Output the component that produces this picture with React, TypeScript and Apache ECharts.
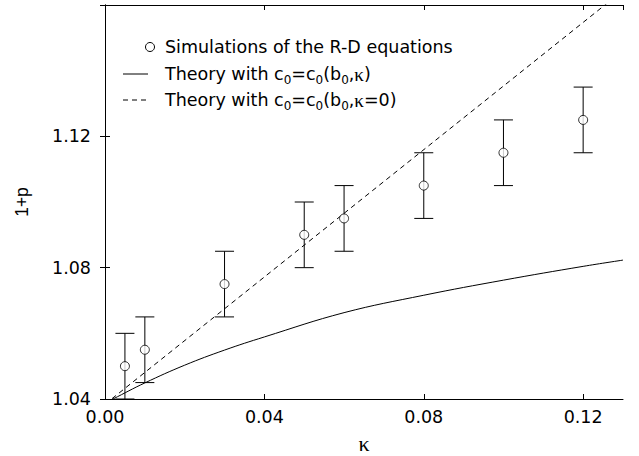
import React, { useEffect, useRef } from "react";
import * as echarts from "echarts";

// ---- data ----
const kappa = [0.005, 0.01, 0.03, 0.05, 0.06, 0.08, 0.1, 0.12];
const simValues = [1.05, 1.055, 1.075, 1.09, 1.095, 1.105, 1.115, 1.125];
const simErrors = [0.01, 0.01, 0.01, 0.01, 0.01, 0.01, 0.01, 0.01];

const theoryKappa = [0, 0.002, 0.01, 0.02, 0.03, 0.04, 0.06, 0.08, 0.1, 0.12, 0.13];
const theoryValues = [1.0388, 1.04, 1.0449, 1.0503, 1.0549, 1.0589, 1.0663, 1.0716, 1.0762, 1.0804, 1.0823];

const theory0Kappa = [0, 0.13];
const theory0Values = [1.0384, 1.1644];

const xTicks = { min: 0, max: 0.13, interval: 0.04 };
const yTicks = { min: 1.04, max: 1.16, interval: 0.04 };

const legendLabels = [
  "Simulations of the R-D equations",
  "{n|Theory with c}{s|0}{n|=c}{s|0}{n|(b}{s|0}{n|,}{k|κ}{n|)}",
  "{n|Theory with c}{s|0}{n|=c}{s|0}{n|(b}{s|0}{n|,}{k|κ}{n|=0)}",
];

const SANS = "DejaVu Sans";
const FS = 17.5;

export default function App() {
  const ref = useRef<HTMLDivElement>(null);

  useEffect(() => {
    if (!ref.current) return;
    const chart = echarts.init(ref.current, null, { renderer: "svg" });

    const axisCommon = {
      type: "value" as const,
      splitLine: { show: false },
      axisLine: { show: true, lineStyle: { color: "#000", width: 1 } },
      axisTick: { show: true, inside: true, length: 5, lineStyle: { color: "#000", width: 1 } },
    };

    const rich = {
      n: { fontFamily: SANS, fontSize: FS, color: "#000", lineHeight: 22 },
      s: { fontFamily: SANS, fontSize: 12, color: "#000", lineHeight: 12, padding: [12, 0, 0, 0] },
      k: { fontFamily: "Liberation Serif", fontSize: 19, color: "#000", lineHeight: 22 },
    };

    const option: any = {
      animation: false,
      backgroundColor: "#fff",
      grid: { left: 105, right: 16, top: 5, bottom: 57, containLabel: false, outerBoundsMode: "none" },
      xAxis: [
        {
          ...axisCommon,
          ...xTicks,
          position: "bottom",
          name: "κ",
          nameLocation: "middle",
          nameGap: 33,
          nameTextStyle: { fontFamily: "Liberation Serif", fontSize: 22, color: "#000" },
          axisLabel: {
            color: "#000",
            fontFamily: SANS,
            fontSize: FS,
            margin: 9,
            showMaxLabel: false,
            formatter: (v: number) => v.toFixed(2),
          },
        },
        {
          ...axisCommon,
          ...xTicks,
          position: "top",
          axisLabel: { show: false },
        },
      ],
      yAxis: [
        {
          ...axisCommon,
          ...yTicks,
          position: "left",
          name: "1+p",
          nameLocation: "middle",
          nameGap: 74,
          nameTextStyle: { fontFamily: "Liberation Sans", fontSize: FS, color: "#000" },
          axisLabel: {
            color: "#000",
            fontFamily: SANS,
            fontSize: FS,
            margin: 14,
            showMaxLabel: false,
            formatter: (v: number) => v.toFixed(2),
          },
        },
        {
          ...axisCommon,
          ...yTicks,
          position: "right",
          axisLabel: { show: false },
        },
      ],
      series: [
        {
          name: "Theory with c0=c0(b0,κ)",
          type: "line",
          data: theoryKappa.map((k, i) => [k, theoryValues[i]]),
          showSymbol: false,
          symbol: "none",
          smooth: 0.4,
          clip: true,
          lineStyle: { color: "#000", width: 1 },
          z: 2,
        },
        {
          name: "Theory with c0=c0(b0,κ=0)",
          type: "line",
          data: theory0Kappa.map((k, i) => [k, theory0Values[i]]),
          showSymbol: false,
          symbol: "none",
          clip: true,
          lineStyle: { color: "#000", width: 1, type: [5, 4] },
          z: 2,
        },
        {
          name: "errorbars",
          type: "custom",
          data: kappa.map((k, i) => [k, simValues[i], simErrors[i]]),
          encode: { x: 0, y: 1 },
          clip: true,
          z: 3,
          renderItem: (params: any, api: any) => {
            const x = api.value(0);
            const y = api.value(1);
            const e = api.value(2);
            const top = api.coord([x, y + e]);
            const bot = api.coord([x, y - e]);
            const hw = 9.5;
            const st = { stroke: "#000", lineWidth: 1 };
            return {
              type: "group",
              children: [
                { type: "line", shape: { x1: top[0], y1: top[1], x2: bot[0], y2: bot[1] }, style: st },
                { type: "line", shape: { x1: top[0] - hw, y1: top[1], x2: top[0] + hw, y2: top[1] }, style: st },
                { type: "line", shape: { x1: bot[0] - hw, y1: bot[1], x2: bot[0] + hw, y2: bot[1] }, style: st },
              ],
            };
          },
        },
        {
          name: "Simulations of the R-D equations",
          type: "scatter",
          data: kappa.map((k, i) => [k, simValues[i]]),
          symbol: "circle",
          symbolSize: 9,
          itemStyle: { color: "#fff", borderColor: "#000", borderWidth: 1 },
          z: 4,
        },
      ],
      graphic: [
        {
          type: "circle",
          shape: { cx: 150, cy: 47, r: 4.5 },
          style: { fill: "#fff", stroke: "#000", lineWidth: 1 },
          z: 10,
        },
        {
          type: "text",
          x: 165,
          y: 47,
          style: { text: legendLabels[0], fontFamily: SANS, fontSize: FS, fill: "#000", verticalAlign: "middle" },
          z: 10,
        },
        {
          type: "line",
          shape: { x1: 123, y1: 74, x2: 148, y2: 74 },
          style: { stroke: "#000", lineWidth: 1 },
          z: 10,
        },
        {
          type: "text",
          x: 165,
          y: 74,
          style: { text: legendLabels[1], rich, verticalAlign: "middle", fill: "#000" },
          z: 10,
        },
        {
          type: "line",
          shape: { x1: 123, y1: 100, x2: 148, y2: 100 },
          style: { stroke: "#000", lineWidth: 1, lineDash: [5, 4] },
          z: 10,
        },
        {
          type: "text",
          x: 165,
          y: 100,
          style: { text: legendLabels[2], rich, verticalAlign: "middle", fill: "#000" },
          z: 10,
        },
      ],
    };

    chart.setOption(option);
    return () => chart.dispose();
  }, []);

  return (
    <div
      ref={ref}
      style={{ position: "fixed", left: 0, top: 0, width: 639, height: 456, background: "#fff" }}
    />
  );
}
